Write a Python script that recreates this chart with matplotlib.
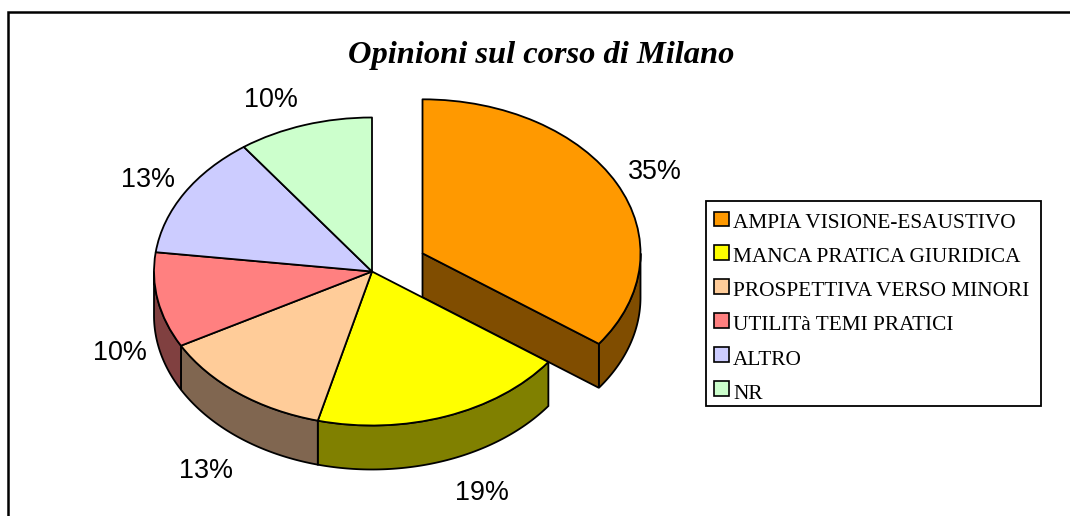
import numpy as np
import matplotlib
matplotlib.use("Agg")
import matplotlib.pyplot as plt
from matplotlib.patches import Polygon, Rectangle

title = "Opinioni sul corso di Milano"
categories = ["AMPIA VISIONE-ESAUSTIVO", "MANCA PRATICA GIURIDICA", "PROSPETTIVA VERSO MINORI",
              "UTILITà TEMI PRATICI", "ALTRO", "NR"]
values = [35, 19, 13, 10, 13, 10]
top_colors = ["#FF9900", "#FFFF00", "#FFCC99", "#FF8080", "#CCCCFF", "#CCFFCC"]
side_colors = ["#804D00", "#808000", "#806650", "#804040", "#666680", "#668066"]
explode = [0.26, 0, 0, 0, 0, 0]

W, H = 1070, 516
CX, CY, RX, RY, DEPTH = 372, 271.5, 218, 154, 44
LW = 1.3

fig = plt.figure(figsize=(W / 100, H / 100), dpi=100, facecolor="white")
ax = fig.add_axes([0, 0, 1, 1], zorder=1)
ax.set_xlim(0, W)
ax.set_ylim(H, 0)
ax.axis("off")

ax.plot([8, 8, W + 5], [H + 5, 11.5, 11.5], color="black", lw=1.8, solid_joinstyle="miter")

pie_ax = fig.add_axes([0, 0, 1, 1], zorder=2)
wedges, _ = pie_ax.pie(values, explode=explode, colors=top_colors, startangle=90, counterclock=False,
                       wedgeprops=dict(edgecolor="black", linewidth=LW, joinstyle="round"))
pie_ax.set_aspect("auto")
pie_ax.set_xlim(-CX / RX, (W - CX) / RX)
pie_ax.set_ylim((CY - H) / RY, CY / RY)
pie_ax.axis("off")
d = DEPTH / RY


def add_walls(wedge, color, z):
    cx, cy = wedge.center
    r = wedge.r
    t1, t2 = wedge.theta1, wedge.theta2
    for shift in (-360, 0, 360):
        lo, hi = max(t1 + shift, 180), min(t2 + shift, 360)
        if hi > lo:
            a = np.radians(np.linspace(lo, hi, 80))
            x = cx + r * np.cos(a)
            y = cy + r * np.sin(a)
            pts = np.r_[np.c_[x, y], np.c_[x[::-1], y[::-1] - d]]
            pie_ax.add_patch(Polygon(pts, closed=True, fc=color, ec="black", lw=LW, zorder=z))
    if np.hypot(cx, cy) > 0:
        a = np.radians(t1)
        ex, ey = cx + r * np.cos(a), cy + r * np.sin(a)
        pts = [(cx, cy), (ex, ey), (ex, ey - d), (cx, cy - d)]
        pie_ax.add_patch(Polygon(pts, closed=True, fc=color, ec="black", lw=LW, zorder=z))


for i, (w, c) in enumerate(zip(wedges, side_colors)):
    exploded = explode[i] > 0
    add_walls(w, c, 1 if exploded else 3)
    w.set_zorder(2 if exploded else 4)

label_xy = [(655, 172), (482, 493), (206, 471), (120, 353), (148, 180), (271, 100)]
for v, (x, y) in zip(values, label_xy):
    ax.text(x, y, f"{v}%", family="Liberation Sans", fontsize=19.4, ha="center", va="center", color="black")

ax.text(541.5, 55, title, family="Liberation Serif", style="italic", weight="bold", fontsize=23.4,
        ha="center", va="center", color="black")

ax.add_patch(Rectangle((706, 201), 335, 205, fc="white", ec="black", lw=1.3))
for i, (name, c) in enumerate(zip(categories, top_colors)):
    y = 218.5 + 33.9 * i
    ax.add_patch(Rectangle((714, y - 7), 14.5, 14.5, fc=c, ec="black", lw=1.2))
    ax.text(733, 223.3 + 34.2 * i, name, family="Liberation Serif", fontsize=15.35, ha="left", va="center",
            color="black")

fig.savefig("out.png", dpi=100)
